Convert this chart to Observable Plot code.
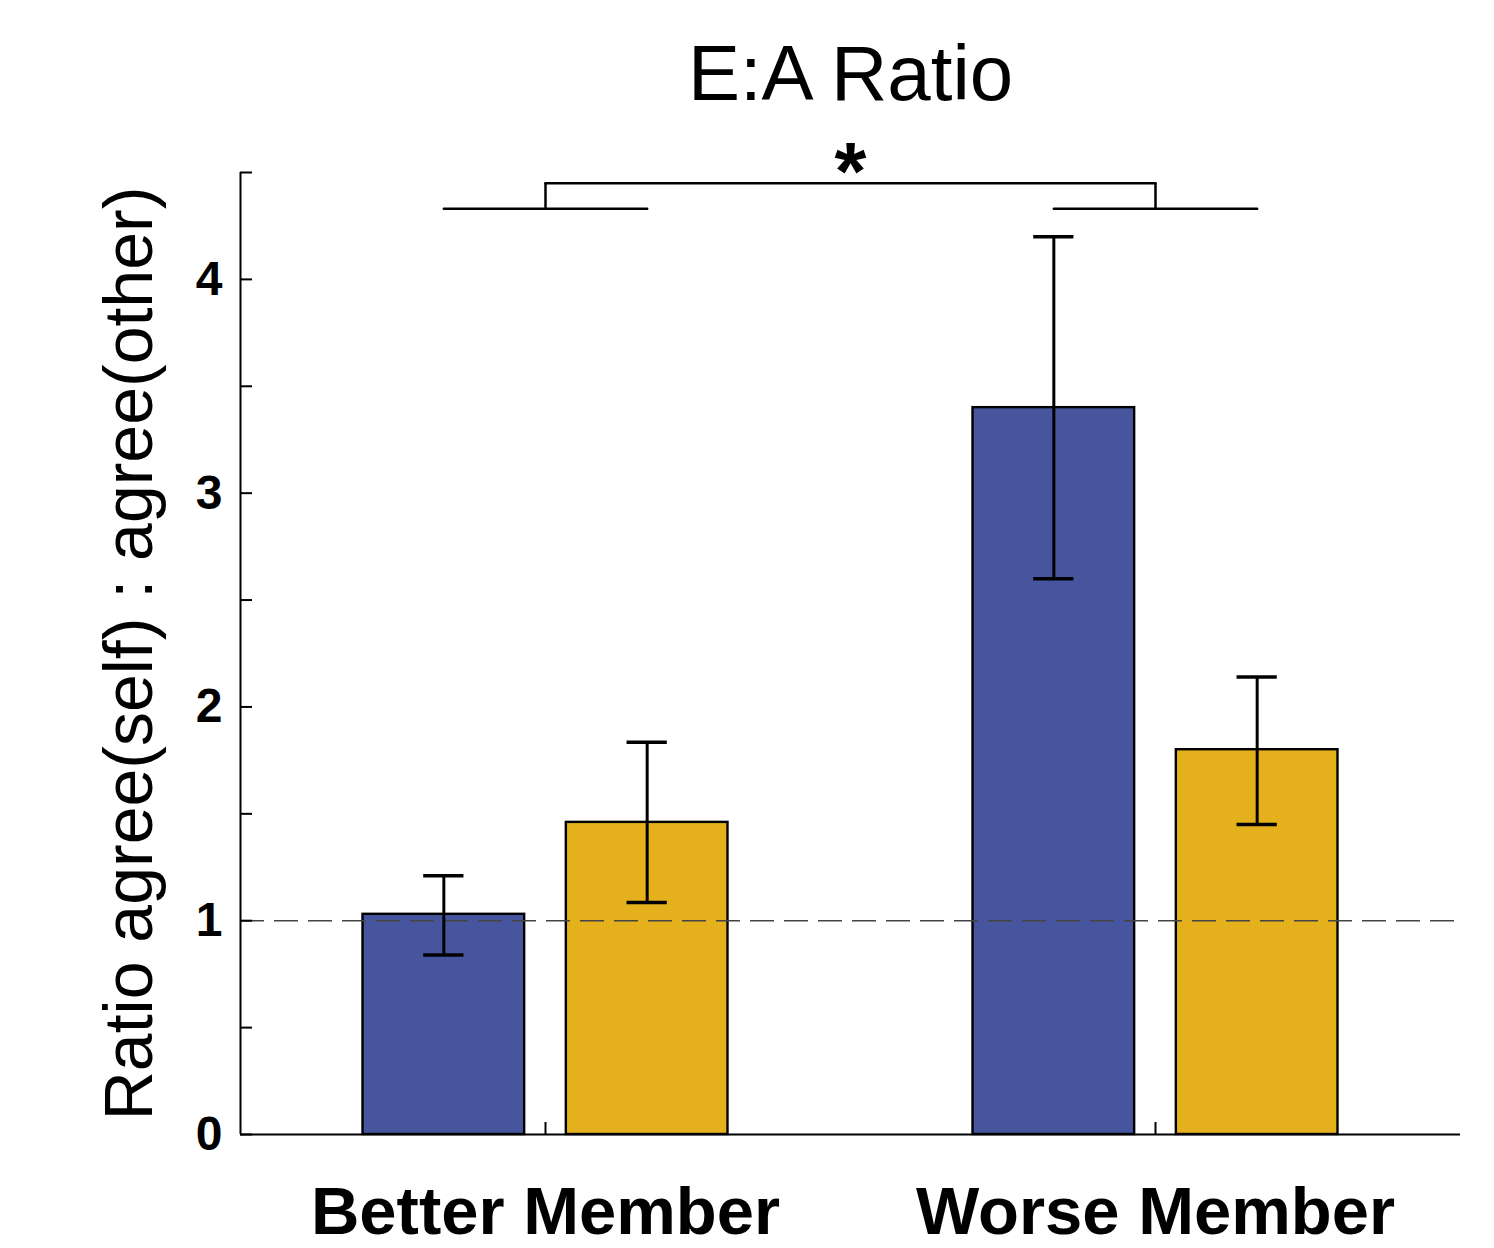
<!DOCTYPE html>
<html>
<head>
<meta charset="utf-8">
<script src="https://cdn.jsdelivr.net/npm/d3@7"></script>
<script src="https://cdn.jsdelivr.net/npm/@observablehq/plot@0.6"></script>
<style>
  html, body { margin: 0; padding: 0; background: #fff; }
  #chart { width: 1494px; height: 1248px; }
</style>
</head>
<body>
<div id="chart"></div>
<script>
// ---- data ----
const title = "E:A Ratio";
const yLabel = "Ratio agree(self) : agree(other)";
const groups = ["Better Member", "Worse Member"];
const seriesNames = ["Series 1", "Series 2"];
const seriesColors = ["#46559d", "#e4b11c"];
const barGroup = ["Better Member", "Better Member", "Worse Member", "Worse Member"];
const barSeries = ["Series 1", "Series 2", "Series 1", "Series 2"];
const barValue = [1.03, 1.46, 3.40, 1.80];
const errLow = [0.84, 1.085, 2.60, 1.45];
const errHigh = [1.21, 1.835, 4.20, 2.14];
const yTickLabels = [0, 1, 2, 3, 4];
const yTickMarks = [0, 0.5, 1, 1.5, 2, 2.5, 3, 3.5, 4, 4.5];
const referenceLine = [1];
const significance = "*";
const bracketLow = 4.33;
const bracketHigh = 4.45;

// ---- layout helpers (in x-scale units: groups at 1, 2) ----
const seriesOffset = 1 / 6;
const barHalf = 0.1325;
const capHalf = 0.033;
const gx = g => groups.indexOf(g) + 1;
const sx = (g, s) => gx(g) + (seriesNames.indexOf(s) === 0 ? -seriesOffset : seriesOffset);

const bars = barValue.map((v, i) => ({
  group: barGroup[i], series: barSeries[i], value: v, lo: errLow[i], hi: errHigh[i],
  cx: sx(barGroup[i], barSeries[i])
}));

const bracketLowLines = [];
for (const g of groups) {
  for (const s of seriesNames) bracketLowLines.push({group: g, x: sx(g, s), y: bracketLow});
}
const bracketStubs = groups.map(g => ({x: gx(g)}));
const bracketTop = groups.map(g => ({x: gx(g), y: bracketHigh}));

const font = "'Liberation Sans', Arial, sans-serif";

const chart = Plot.plot({
  width: 1494,
  height: 1248,
  marginLeft: 240,
  marginRight: 34,
  marginTop: 172,
  marginBottom: 114,
  style: {fontFamily: font, background: "#fff", color: "#000"},
  x: {domain: [0.5, 2.5], axis: null},
  y: {domain: [0, 4.5], axis: null},
  color: {domain: seriesNames, range: seriesColors},
  marks: [
    Plot.rectY(bars, {
      x1: d => d.cx - barHalf, x2: d => d.cx + barHalf, y1: 0, y2: "value",
      fill: "series", stroke: "#000", strokeWidth: 2.4
    }),
    Plot.ruleY(referenceLine, {stroke: "#444", strokeWidth: 1.6, strokeDasharray: "24 10"}),
    Plot.ruleX(bars, {x: "cx", y1: "lo", y2: "hi", stroke: "#000", strokeWidth: 3}),
    Plot.ruleY(bars, {y: "hi", x1: d => d.cx - capHalf, x2: d => d.cx + capHalf, stroke: "#000", strokeWidth: 3.5}),
    Plot.ruleY(bars, {y: "lo", x1: d => d.cx - capHalf, x2: d => d.cx + capHalf, stroke: "#000", strokeWidth: 3.5}),
    // axis lines
    Plot.ruleY([0], {stroke: "#000", strokeWidth: 2}),
    Plot.ruleX([0.5], {y1: 0, y2: 4.5, stroke: "#000", strokeWidth: 2}),
    // inward ticks
    Plot.axisY(yTickMarks, {anchor: "left", tickSize: -12, fill: "none", strokeWidth: 2, label: null}),
    Plot.axisY(yTickLabels, {anchor: "left", tickSize: 0, tickPadding: 18, tickFormat: d => String(d),
      fontSize: 48, fontWeight: "bold", label: null}),
    Plot.axisX([1, 2], {anchor: "bottom", tickSize: -12, fill: "none", strokeWidth: 2, label: null}),
    Plot.axisX([1, 2], {anchor: "bottom", tickSize: 0, tickPadding: 52, tickFormat: i => groups[i - 1],
      fontSize: 67, fontWeight: "bold", label: null}),
    // significance bracket
    Plot.line(bracketLowLines, {x: "x", y: "y", z: "group", stroke: "#000", strokeWidth: 2.5}),
    Plot.ruleX(bracketStubs, {x: "x", y1: bracketLow, y2: bracketHigh, stroke: "#000", strokeWidth: 2.5}),
    Plot.line(bracketTop, {x: "x", y: "y", stroke: "#000", strokeWidth: 2.5}),
    Plot.text([significance], {x: 1.5, y: bracketHigh, dy: -10, fontSize: 82, fontWeight: "bold"}),
    // title and y label
    Plot.text([title], {frameAnchor: "top", lineAnchor: "middle", dy: -97, fontSize: 78}),
    Plot.text([yLabel], {frameAnchor: "left", textAnchor: "middle", lineAnchor: "middle",
      dx: -110, rotate: -90, fontSize: 68})
  ]
});
document.getElementById("chart").appendChild(chart);
</script>
</body>
</html>
